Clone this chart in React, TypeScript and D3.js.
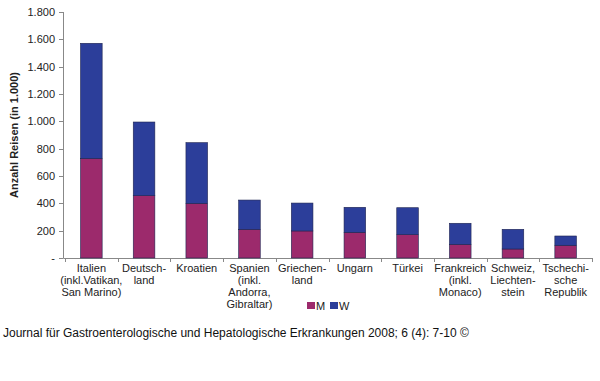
import React from "react";
import * as d3 from "d3";

const categories: string[][] = [
  ["Italien", "(inkl.Vatikan,", "San Marino)"],
  ["Deutsch-", "land"],
  ["Kroatien"],
  ["Spanien", "(inkl.", "Andorra,", "Gibraltar)"],
  ["Griechen-", "land"],
  ["Ungarn"],
  ["Türkei"],
  ["Frankreich", "(inkl.", "Monaco)"],
  ["Schweiz,", "Liechten-", "stein"],
  ["Tschechi-", "sche", "Republik"],
];
const valuesM = [729, 456, 400, 210, 198, 188, 171, 100, 66, 93];
const totals = [1571, 995, 844, 424, 402, 371, 368, 254, 210, 161];
const valuesW = totals.map((t, i) => t - valuesM[i]);
const yTicks = [0, 200, 400, 600, 800, 1000, 1200, 1400, 1600, 1800];
const seriesNames = ["M", "W"];
const colors = ["#9c2a6c", "#2c3e9a"];

const fmt = (v: number) => (v === 0 ? "-" : d3.format(",")(v).replace(/,/g, "."));

export default function App() {
  const W = 600, H = 381;
  const x0 = 65, x1 = 592, yTop = 12, yBot = 258;
  const x = d3.scaleBand<number>().domain(d3.range(categories.length)).range([x0, x1]).paddingInner(0.59).paddingOuter(0.295);
  const y = d3.scaleLinear().domain([0, 1800]).range([yBot, yTop]);
  const band = d3.scaleBand<number>().domain(d3.range(categories.length)).range([x0, x1]);
  const data = categories.map((_, i) => ({ M: valuesM[i], W: valuesW[i] }));
  const stack = d3.stack<any>().keys(seriesNames)(data);
  const font = "Arial, 'Liberation Sans', sans-serif";
  return (
    <svg width={W} height={H} style={{ position: "absolute", left: 0, top: 0, background: "#fff" }} fontFamily={font}>
      {/* axes */}
      <line x1={63.5} x2={63.5} y1={yTop} y2={yBot} stroke="#888" />
      <line x1={63.5} x2={x1} y1={yBot + 0.5} y2={yBot + 0.5} stroke="#888" />
      {yTicks.map((t) => (
        <g key={t}>
          <line x1={59} x2={63.5} y1={Math.round(y(t)) + 0.5} y2={Math.round(y(t)) + 0.5} stroke="#888" />
          <text x={55} y={y(t) + 4} textAnchor="end" fontSize={11} fill="#222">{fmt(t)}</text>
        </g>
      ))}
      {d3.range(categories.length + 1).map((i) => {
        const xx = Math.round(i < categories.length ? band(i)! : x1) + 0.5;
        return <line key={i} x1={xx} x2={xx} y1={yBot} y2={yBot + 4} stroke="#888" />;
      })}
      {stack.map((s, si) =>
        s.map((d, i) => (
          <rect key={si + "-" + i} x={x(i)!} width={x.bandwidth()} y={y(d[1])} height={y(d[0]) - y(d[1])}
            fill={colors[si]} stroke="#1e2450" strokeWidth={0.6} />
        ))
      )}
      {categories.map((lines, i) => (
        <text key={i} x={band(i)! + band.bandwidth() / 2} y={272} textAnchor="middle" fontSize={11} fill="#222">
          {lines.map((l, j) => (
            <tspan key={j} x={band(i)! + band.bandwidth() / 2} dy={j === 0 ? 0 : 12}>{l}</tspan>
          ))}
        </text>
      ))}
      <text transform="translate(18,135) rotate(-90)" textAnchor="middle" fontSize={11} fontWeight="bold" fill="#222">
        Anzahl Reisen (in 1.000)
      </text>
      {seriesNames.map((n, i) => (
        <g key={n} transform={`translate(${307 + i * 23},302)`}>
          <rect width={8} height={7} fill={colors[i]} />
          <text x={9} y={8} fontSize={11} fill="#222">{n}</text>
        </g>
      ))}
      <text x={3} y={337} fontSize={12} fill="#111">
        Journal für Gastroenterologische und Hepatologische Erkrankungen 2008; 6 (4): 7-10 ©
      </text>
    </svg>
  );
}
